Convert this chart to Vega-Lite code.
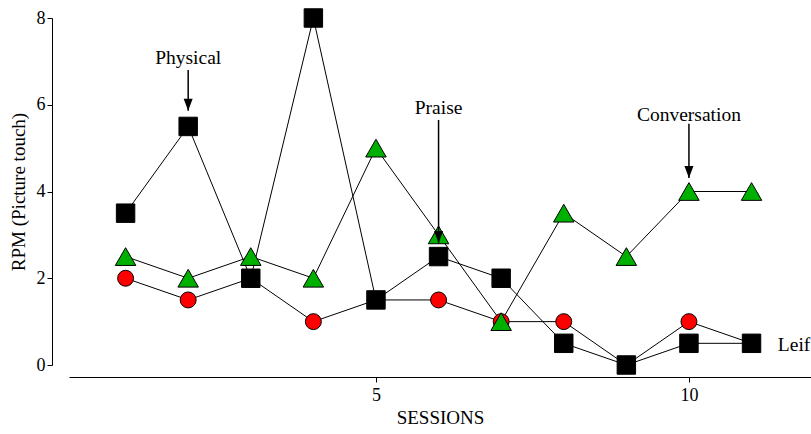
{
  "$schema": "https://vega.github.io/schema/vega-lite/v6.json",
  "width": 742,
  "height": 347,
  "autosize": {"type": "none"},
  "padding": {"left": 69, "top": 18, "right": 0, "bottom": 69},
  "background": "white",
  "config": {
    "view": {"stroke": null},
    "font": "Liberation Serif, Times New Roman, serif",
    "axis": {
      "grid": false,
      "domainColor": "black",
      "tickColor": "black",
      "labelColor": "black",
      "titleColor": "black",
      "labelFont": "Liberation Serif, Times New Roman, serif",
      "titleFont": "Liberation Serif, Times New Roman, serif",
      "labelFontSize": 18,
      "titleFontSize": 19,
      "titleFontWeight": "normal",
      "domainWidth": 1,
      "tickWidth": 1,
      "tickSize": 5
    }
  },
  "datasets": {
    "series": [
      {"session": 1, "value": 2, "series": "red"},
      {"session": 2, "value": 1.5, "series": "red"},
      {"session": 3, "value": 2, "series": "red"},
      {"session": 4, "value": 1, "series": "red"},
      {"session": 5, "value": 1.5, "series": "red"},
      {"session": 6, "value": 1.5, "series": "red"},
      {"session": 7, "value": 1, "series": "red"},
      {"session": 8, "value": 1, "series": "red"},
      {"session": 9, "value": 0, "series": "red"},
      {"session": 10, "value": 1, "series": "red"},
      {"session": 11, "value": 0.5, "series": "red"},
      {"session": 1, "value": 2.5, "series": "green"},
      {"session": 2, "value": 2, "series": "green"},
      {"session": 3, "value": 2.5, "series": "green"},
      {"session": 4, "value": 2, "series": "green"},
      {"session": 5, "value": 5, "series": "green"},
      {"session": 6, "value": 3, "series": "green"},
      {"session": 7, "value": 1, "series": "green"},
      {"session": 8, "value": 3.5, "series": "green"},
      {"session": 9, "value": 2.5, "series": "green"},
      {"session": 10, "value": 4, "series": "green"},
      {"session": 11, "value": 4, "series": "green"},
      {"session": 1, "value": 3.5, "series": "black"},
      {"session": 2, "value": 5.5, "series": "black"},
      {"session": 3, "value": 2, "series": "black"},
      {"session": 4, "value": 8, "series": "black"},
      {"session": 5, "value": 1.5, "series": "black"},
      {"session": 6, "value": 2.5, "series": "black"},
      {"session": 7, "value": 2, "series": "black"},
      {"session": 8, "value": 0.5, "series": "black"},
      {"session": 9, "value": 0, "series": "black"},
      {"session": 10, "value": 0.5, "series": "black"},
      {"session": 11, "value": 0.5, "series": "black"}
    ],
    "arrows": [
      {"session": 2, "value": 6.8, "value2": 5.86},
      {"session": 6, "value": 5.65, "value2": 2.81},
      {"session": 10, "value": 5.56, "value2": 4.31}
    ],
    "notes": [
      {"session": 2, "value": 6.94, "label": "Physical"},
      {"session": 6, "value": 5.79, "label": "Praise"},
      {"session": 10, "value": 5.63, "label": "Conversation"}
    ],
    "leif": [
      {"session": 11.42, "value": 0.32, "label": "Leif"}
    ]
  },
  "layer": [
    {
      "data": {"name": "series"},
      "mark": {"type": "line", "color": "black", "strokeWidth": 1},
      "encoding": {
        "x": {
          "field": "session", "type": "quantitative",
          "scale": {"domain": [0.096, 11.95], "nice": false, "zero": false},
          "axis": {"values": [5, 10], "format": "d", "title": "SESSIONS", "offset": 12, "labelPadding": 4, "titlePadding": 4}
        },
        "y": {
          "field": "value", "type": "quantitative",
          "scale": {"domain": [0, 8], "nice": false, "zero": false},
          "axis": {"values": [0, 2, 4, 6, 8], "format": "d", "title": "RPM (Picture touch)", "offset": 17, "labelPadding": 2, "titlePadding": 8}
        },
        "detail": {"field": "series"}
      }
    },
    {
      "data": {"name": "series"},
      "transform": [{"filter": "datum.series === 'red'"}],
      "mark": {"type": "point", "shape": "circle", "filled": true, "fill": "#ff0000", "stroke": "black", "strokeWidth": 1, "size": 254, "opacity": 1},
      "encoding": {
        "x": {"field": "session", "type": "quantitative"},
        "y": {"field": "value", "type": "quantitative"}
      }
    },
    {
      "data": {"name": "series"},
      "transform": [{"filter": "datum.series === 'green'"}],
      "mark": {"type": "point", "shape": "triangle-up", "filled": true, "fill": "#00b000", "stroke": "black", "strokeWidth": 1, "size": 420, "opacity": 1},
      "encoding": {
        "x": {"field": "session", "type": "quantitative"},
        "y": {"field": "value", "type": "quantitative"}
      }
    },
    {
      "data": {"name": "series"},
      "transform": [{"filter": "datum.series === 'black'"}],
      "mark": {"type": "point", "shape": "square", "filled": true, "fill": "black", "stroke": "black", "strokeWidth": 1, "size": 340, "opacity": 1},
      "encoding": {
        "x": {"field": "session", "type": "quantitative"},
        "y": {"field": "value", "type": "quantitative"}
      }
    },
    {
      "data": {"name": "arrows"},
      "mark": {"type": "rule", "color": "black", "strokeWidth": 1.5},
      "encoding": {
        "x": {"field": "session", "type": "quantitative"},
        "y": {"field": "value", "type": "quantitative"},
        "y2": {"field": "value2"}
      }
    },
    {
      "data": {"name": "arrows"},
      "mark": {"type": "point", "shape": "M0,0L-0.75,-2L0.75,-2Z", "filled": true, "fill": "black", "strokeWidth": 0, "size": 144, "opacity": 1},
      "encoding": {
        "x": {"field": "session", "type": "quantitative"},
        "y": {"field": "value2", "type": "quantitative"}
      }
    },
    {
      "data": {"name": "notes"},
      "mark": {"type": "text", "align": "center", "baseline": "alphabetic", "font": "Liberation Serif, Times New Roman, serif", "fontSize": 19.5, "color": "black"},
      "encoding": {
        "x": {"field": "session", "type": "quantitative"},
        "y": {"field": "value", "type": "quantitative"},
        "text": {"field": "label"}
      }
    },
    {
      "data": {"name": "leif"},
      "mark": {"type": "text", "align": "left", "baseline": "alphabetic", "font": "Liberation Serif, Times New Roman, serif", "fontSize": 19.5, "color": "black"},
      "encoding": {
        "x": {"field": "session", "type": "quantitative"},
        "y": {"field": "value", "type": "quantitative"},
        "text": {"field": "label"}
      }
    }
  ]
}
